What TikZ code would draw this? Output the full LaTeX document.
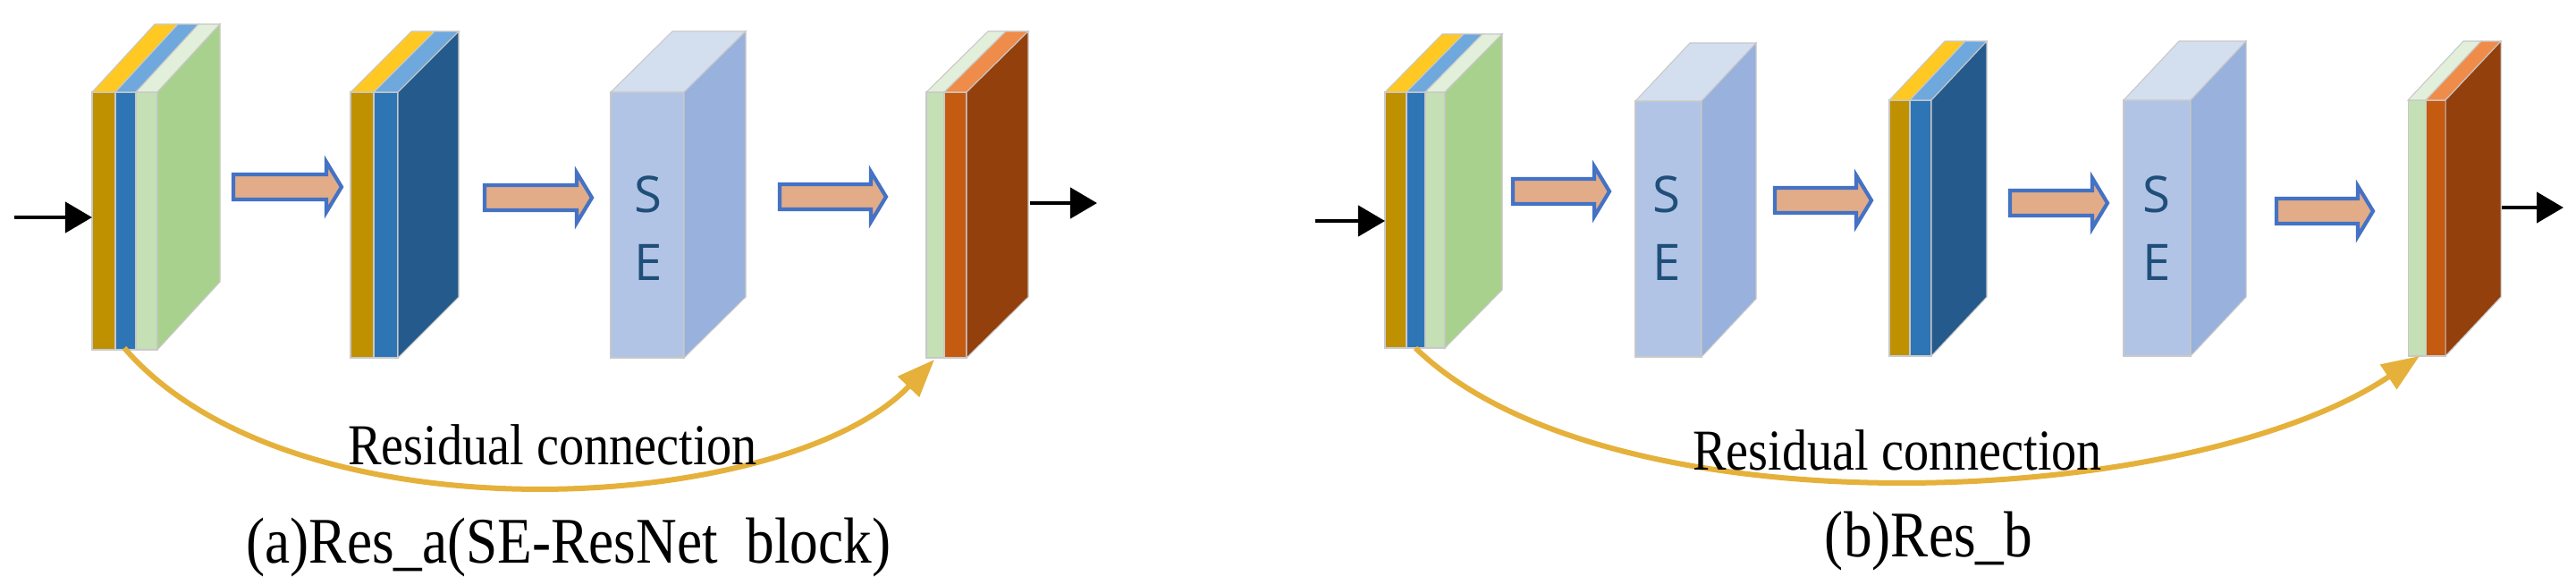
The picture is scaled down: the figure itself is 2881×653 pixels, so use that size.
\documentclass[tikz,border=0pt]{standalone}
\usepackage{fontspec}
\setmainfont{Liberation Serif}
\newfontfamily\sefont{Open Sans}
\usetikzlibrary{arrows.meta}
\definecolor{cGold}{HTML}{BF9000}
\definecolor{cGoldT}{HTML}{FFC823}
\definecolor{cBlue}{HTML}{2E75B6}
\definecolor{cBlueT}{HTML}{6FA8DC}
\definecolor{cBlueS}{HTML}{255A8C}
\definecolor{cLG}{HTML}{C5E0B4}
\definecolor{cLGT}{HTML}{E2EFDA}
\definecolor{cGS}{HTML}{A9D18E}
\definecolor{cSE}{HTML}{B1C4E5}
\definecolor{cSET}{HTML}{D3DEEF}
\definecolor{cSES}{HTML}{98B1DD}
\definecolor{cOr}{HTML}{C55A11}
\definecolor{cOrT}{HTML}{F08C4A}
\definecolor{cBr}{HTML}{93400D}
\definecolor{cArF}{HTML}{E2AC88}
\definecolor{cArB}{HTML}{4472C4}
\definecolor{cRes}{HTML}{E5B13B}
\definecolor{cSEtxt}{HTML}{1F4E79}
\definecolor{cEdge}{HTML}{C8C8C8}
\newcommand\rsSlab[8]{% x0 x1 top bot dx dy front topcol
  \filldraw[fill=#7,edge] (#1,#3) rectangle (#2,#4);
  \filldraw[fill=#8,edge] (#1,#3) -- (#2,#3) -- (#2+#5,#3-#6) -- (#1+#5,#3-#6) -- cycle;}
\newcommand\rsSide[6]{% x1 top bot dx dy col
  \filldraw[fill=#6,edge] (#1,#3) -- (#1,#2) -- (#1+#4,#2-#5) -- (#1+#4,#3-#5) -- cycle;}
\newcommand\rsArrow[3]{% x0 tip yc
  \draw[bigarrow] (#1,#3-14) -- (#2-17,#3-14) -- (#2-17,#3-28) -- (#2,#3) -- (#2-17,#3+28) -- (#2-17,#3+14) -- (#1,#3+14) -- cycle;}
\newcommand\rsSE[7]{% x0 x1 top bot dx dy sx
  \rsSlab{#1}{#2}{#3}{#4}{#5}{#6}{cSE}{cSET}
  \rsSide{#2}{#3}{#4}{#5}{#6}{cSES}
  \node[setxt] at (#7,217) {S};
  \node[setxt] at (#7,293) {E};}
\begin{document}
\begin{tikzpicture}[x=0.01cm,y=-0.01cm,
  edge/.style={draw=cEdge,line width=0.3pt},
  bigarrow/.style={fill=cArF,draw=cArB,line width=0.042cm,line join=miter},
  blk/.style={-{Triangle[length=0.3cm,width=0.34cm]},line width=0.045cm},
  res/.style={draw=cRes,line width=0.06cm,-{Triangle[length=0.42cm,width=0.32cm]}},
  setxt/.style={font=\sefont\fontsize{16}{16}\selectfont,text=cSEtxt,inner sep=0pt},
  lab/.style={font=\fontsize{16}{16}\selectfont,inner sep=0pt,yscale=1.15},
  captxt/.style={font=\fontsize{18}{18}\selectfont,inner sep=0pt,yscale=1.15}]
\useasboundingbox (0,0) rectangle (2881,653);
% ---------- (a) ----------
\rsSlab{103}{129}{103}{391}{70}{76}{cGold}{cGoldT}
\rsSlab{129}{152}{103}{391}{70}{76}{cBlue}{cBlueT}
\rsSlab{152}{176}{103}{391}{70}{76}{cLG}{cLGT}
\rsSide{176}{103}{391}{70}{76}{cGS}
\rsSlab{392}{418}{103}{400}{68}{68}{cGold}{cGoldT}
\rsSlab{418}{445}{103}{400}{68}{68}{cBlue}{cBlueT}
\rsSide{445}{103}{400}{68}{68}{cBlueS}
\rsSE{683}{765}{103}{400}{69}{68}{725}
\rsSlab{1036}{1056}{103}{400}{69}{68}{cLG}{cLGT}
\rsSlab{1056}{1081}{103}{400}{69}{68}{cOr}{cOrT}
\rsSide{1081}{103}{400}{69}{68}{cBr}
\rsArrow{261}{382}{209}
\rsArrow{542}{662}{221}
\rsArrow{872}{991}{220}
\coordinate (ina) at (16,243);
\coordinate (a1in) at (103,243);
\coordinate (a4out) at (1152,227);
\coordinate (outa) at (1227,227);
\coordinate (a1s) at (139,389);
\coordinate (a4s) at (1045,402);
\draw[blk] (ina) -- (a1in);
\draw[blk] (a4out) -- (outa);
\draw[res] (a1s) .. controls (330,610) and (880,575) .. (a4s);
\node[lab] (ra) at (618,497) {Residual connection};
\node[captxt] (capa) at (636,612) {(a)Res\_a(SE-ResNet\ \ block)};
% ---------- (b) ----------
\rsSlab{1549}{1573}{103}{389}{64}{65}{cGold}{cGoldT}
\rsSlab{1573}{1594}{103}{389}{64}{65}{cBlue}{cBlueT}
\rsSlab{1594}{1616}{103}{389}{64}{65}{cLG}{cLGT}
\rsSide{1616}{103}{389}{64}{65}{cGS}
\rsSE{1829}{1903}{113}{399}{61}{65}{1864}
\rsSlab{2113}{2136}{112}{398}{62}{66}{cGold}{cGoldT}
\rsSlab{2136}{2160}{112}{398}{62}{66}{cBlue}{cBlueT}
\rsSide{2160}{112}{398}{62}{66}{cBlueS}
\rsSE{2375}{2450}{112}{398}{62}{66}{2412}
\rsSlab{2693}{2713}{112}{398}{62}{66}{cLG}{cLGT}
\rsSlab{2713}{2735}{112}{398}{62}{66}{cOr}{cOrT}
\rsSide{2735}{112}{398}{62}{66}{cBr}
\rsArrow{1692}{1800}{214}
\rsArrow{1985}{2093}{224}
\rsArrow{2248}{2357}{227}
\rsArrow{2546}{2654}{236}
\coordinate (inb) at (1471,247);
\coordinate (b1in) at (1549,247);
\coordinate (b5out) at (2798,232);
\coordinate (outb) at (2867,232);
\coordinate (b1s) at (1583,389);
\coordinate (b5s) at (2706,398);
\draw[blk] (inb) -- (b1in);
\draw[blk] (b5out) -- (outb);
\draw[res] (b1s) .. controls (1800,600) and (2450,570) .. (b5s);
\node[lab] (rb) at (2122,503) {Residual connection};
\node[captxt] (capb) at (2157,605) {(b)Res\_b};
\end{tikzpicture}
\end{document}
